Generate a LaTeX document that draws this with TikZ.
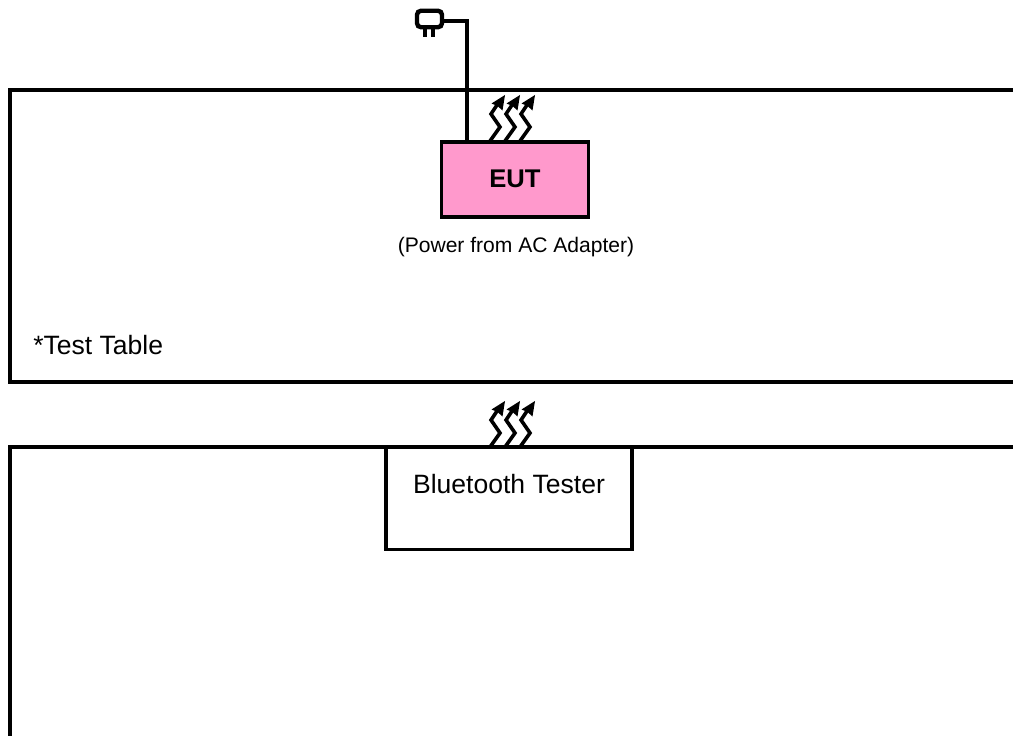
\documentclass[tikz,border=0pt]{standalone}
\usepackage{fontspec}
\setmainfont{Liberation Sans}
\usepackage{tikz}
\usetikzlibrary{positioning}
\definecolor{eutpink}{HTML}{FF99CC}
\tikzset{
  heavy/.style={line width=2.9pt,black},
  tablebox/.style={heavy,draw,rectangle,inner sep=0pt,outer sep=0pt},
  wave/.pic={
    \draw [line width=2.7pt,black,miter limit=10](0,0)--(10,14)--(1,27)--(7,36);
    \fill [black](15,46)--(1.5,37.5)--(7.5,35)--(12.5,30.5)--cycle;
  }
}
\begin{document}
\begin{tikzpicture}[x=0.75pt,y=0.75pt]
            \useasboundingbox (0,0) rectangle (1013,735);
            \clip (0,0) rectangle (1013,735);
            % both frames run off the page
            \node [tablebox,minimum width=1100*0.75pt,minimum height=292*0.75pt,anchor=north west] (table) at (10,645) {};
            \node [tablebox,minimum width=1100*0.75pt,minimum height=400*0.75pt,anchor=north west] (room) at (10,288) {};
            \node [tablebox,fill=white,minimum width=246*0.75pt,minimum height=102*0.75pt] (tester) at (509,236.5) {};
            \node [font=\fontsize{19.9pt}{22pt}\selectfont] (testerlabel) at (509,251) {Bluetooth Tester};
            \node [tablebox,fill=eutpink,minimum width=147*0.75pt,minimum height=75*0.75pt] (eut) at (515,555.5) {};
            \node [font=\fontsize{19.2pt}{22pt}\selectfont\bfseries] (eutlabel) at (515,556) {EUT};
            \node [font=\fontsize{15.8pt}{18pt}\selectfont,below=16*0.75pt of eut,xshift=1*0.75pt] (note) {(Power from AC Adapter)};
            \node [font=\fontsize{19.9pt}{22pt}\selectfont,anchor=west,inner sep=0pt] (tablelabel) at (33,390) {*Test Table};
            \node [line width=3.3pt,black,draw,rectangle,rounded corners=3pt,inner sep=0pt,outer sep=0pt,minimum width=25*0.75pt,minimum height=16.5*0.75pt] (plug) at (429.5,716) {};
            \coordinate (wirefoot) at (467,594);
            \draw [heavy](wirefoot)--(467,714)--(plug.east |- 0,714);
            \draw [line width=2.4pt,black](425,708)--(425,698);
            \draw [line width=2.4pt,black](433,708)--(433,698);
            \foreach \i in {0,15,30}{
              \pic at (490+\i,594) {wave};
              \pic at (490+\i,288) {wave};
            }
\end{tikzpicture}
\end{document}
